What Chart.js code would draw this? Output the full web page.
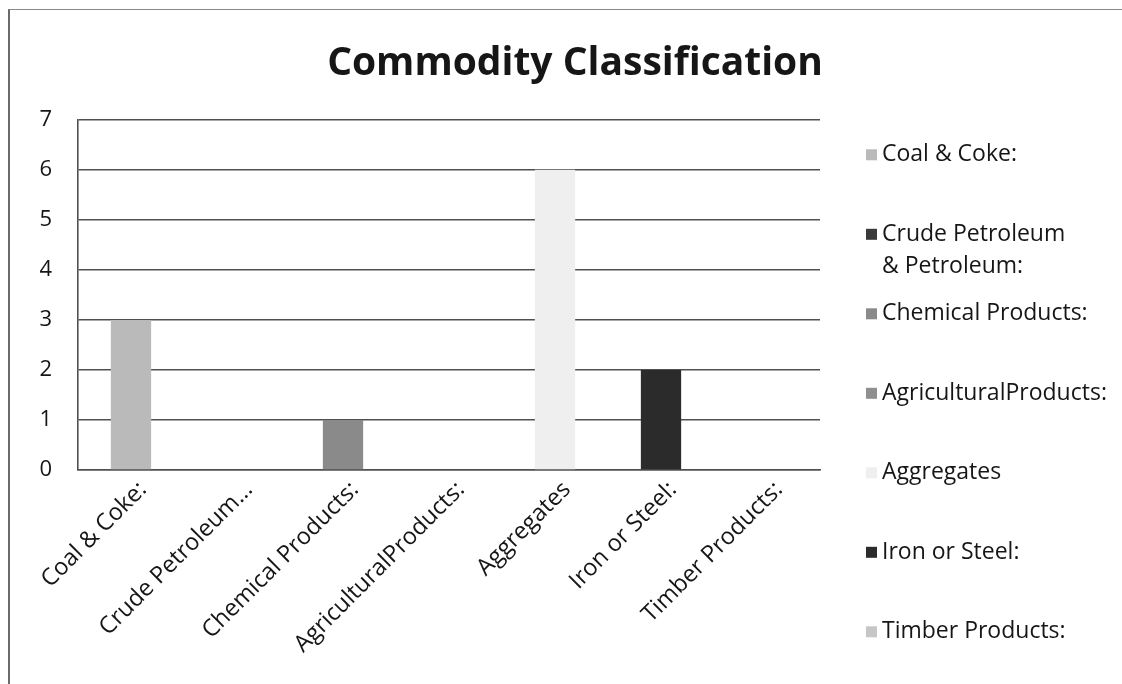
<!DOCTYPE html>
<html>
<head>
<meta charset="utf-8">
<script src="https://cdn.jsdelivr.net/npm/chart.js@4/dist/chart.umd.min.js"></script>
<style>
  html, body { margin: 0; padding: 0; background: #ffffff; overflow: hidden; }
  .marco {
    position: absolute; left: 8px; top: 9px; width: 1130px; height: 690px;
    border-left: 2px solid #6a6a6a; border-top: 1px solid #8a8a8a;
  }
  .chart-container { position: absolute; left: 0; top: 0; width: 1122px; height: 684px; }
</style>
</head>
<body>
<div class="marco"></div>
<div class="chart-container">
  <canvas id="chart-mercancias"></canvas>
</div>
<script>
// Datos del gráfico
const categorias = ["Coal & Coke:", "Crude Petroleum & Petroleum:", "Chemical Products:", "AgriculturalProducts:", "Aggregates", "Iron or Steel:", "Timber Products:"];
const etiquetasEje = ["Coal & Coke:", "Crude Petroleum...", "Chemical Products:", "AgriculturalProducts:", "Aggregates", "Iron or Steel:", "Timber Products:"];
const etiquetasLeyenda = [["Coal & Coke:"], ["Crude Petroleum", "& Petroleum:"], ["Chemical Products:"], ["AgriculturalProducts:"], ["Aggregates"], ["Iron or Steel:"], ["Timber Products:"]];
const cantidades = [3, 0, 1, 0, 6, 2, 0];
const colores = ["#bababa", "#3a3a3a", "#8a8a8a", "#8f8f8f", "#efefef", "#2b2b2b", "#c6c6c6"];
const ejeYMax = 7;
const ejeYPaso = 1;

const fuente = "'Open Sans', 'Noto Sans', sans-serif";
const colorTexto = "#161616";
const colorLineas = "#505050";

// Espacio reservado a la derecha para la leyenda
const anchoLeyenda = 302;

// Leyenda lateral (una entrada por categoría)
const leyendaLateral = {
  id: "leyendaLateral",
  afterDraw(chart) {
    const ctx = chart.ctx;
    const area = chart.chartArea;
    const caja = 11;
    const paso = 79.5;
    const interlineado = 32;
    let x = area.right + 46;
    let y = area.top + 35;

    ctx.save();
    ctx.font = "23px " + fuente;
    ctx.textBaseline = "middle";
    ctx.textAlign = "left";
    etiquetasLeyenda.forEach((lineas, i) => {
      ctx.fillStyle = colores[i];
      ctx.fillRect(x, y - caja / 2, caja, caja);
      ctx.fillStyle = colorTexto;
      lineas.forEach((linea, j) => {
        ctx.fillText(linea, x + caja + 5, y + j * interlineado);
      });
      y += paso;
    });
    ctx.restore();
  }
};

document.addEventListener("DOMContentLoaded", function () {
  cargarGrafico();
});

function cargarGrafico() {
  let ctx = document.getElementById("chart-mercancias").getContext("2d");

  new Chart(ctx, {
    type: "bar",
    data: {
      labels: etiquetasEje,
      datasets: [{
        label: "Commodity Classification",
        data: cantidades,
        backgroundColor: colores,
        borderWidth: 0,
        barPercentage: 0.38,
        categoryPercentage: 1
      }]
    },
    plugins: [leyendaLateral],
    options: {
      responsive: true,
      maintainAspectRatio: false,
      animation: false,
      layout: { padding: { left: 33, right: 5, top: 0, bottom: 0 } },
      plugins: {
        title: {
          display: true,
          text: "Commodity Classification",
          color: colorTexto,
          font: { family: fuente, size: 39, weight: "bold" },
          padding: { top: 40, bottom: 33 }
        },
        legend: { display: false },
        tooltip: { enabled: false }
      },
      scales: {
        x: {
          afterFit: function (eje) {
            eje.height = 214;
            eje.paddingRight = anchoLeyenda; // hueco para la leyenda
          },
          grid: { display: false, drawTicks: false },
          border: { display: true, color: colorLineas, width: 1.6 },
          ticks: {
            color: colorTexto,
            font: { family: fuente, size: 23.5 },
            minRotation: 45,
            maxRotation: 45,
            padding: 6,
            labelOffset: 12,
            autoSkip: false
          }
        },
        y: {
          min: 0,
          max: ejeYMax,
          afterFit: function (eje) { eje.width = 45; },
          grid: { color: colorLineas, lineWidth: 1.6, drawTicks: false },
          border: { display: true, color: colorLineas, width: 1.6 },
          ticks: {
            stepSize: ejeYPaso,
            color: colorTexto,
            font: { family: fuente, size: 22 },
            padding: 26
          }
        }
      }
    }
  });
}
</script>
</body>
</html>
